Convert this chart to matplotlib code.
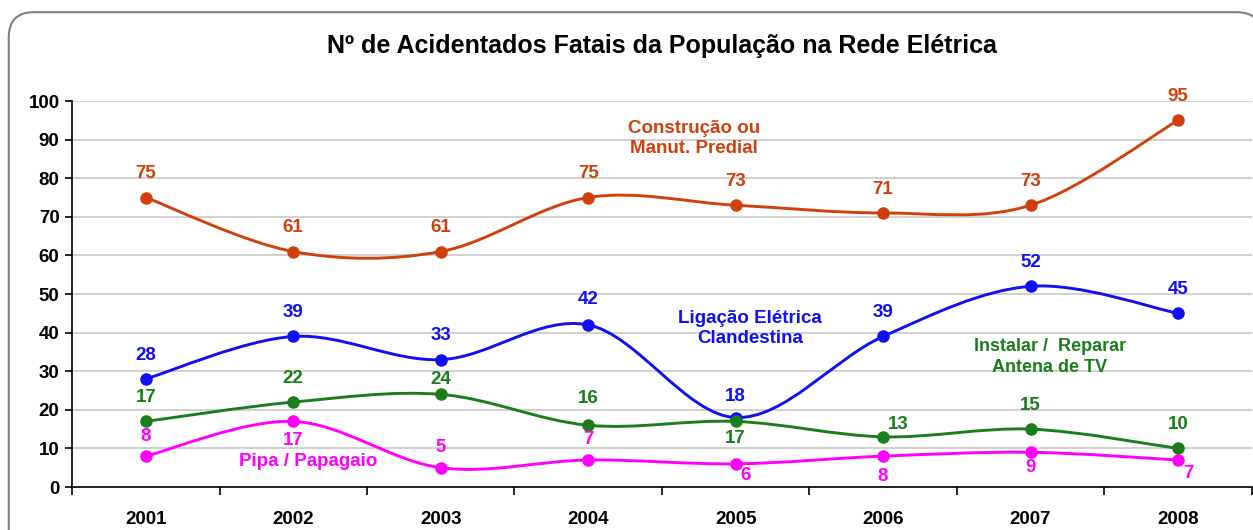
import matplotlib
matplotlib.use("Agg")
import matplotlib.pyplot as plt
from matplotlib.path import Path
from matplotlib.patches import PathPatch, FancyBboxPatch

plt.rcParams['font.family'] = ['Liberation Sans', 'DejaVu Sans']
plt.rcParams['font.weight'] = 'bold'

years = ["2001", "2002", "2003", "2004", "2005", "2006", "2007", "2008"]
construcao = [75, 61, 61, 75, 73, 71, 73, 95]
ligacao = [28, 39, 33, 42, 18, 39, 52, 45]
antena = [17, 22, 24, 16, 17, 13, 15, 10]
pipa = [8, 17, 5, 7, 6, 8, 9, 7]

# label placement per point: (dx in category units, dy in data units)
up = (0, 6.2)
series = [
    (construcao, "#D0400C", [up] * 8),
    (ligacao, "#1010F0", [up, up, up, (0, 6.7), (0, 5.4), up, up, up]),
    (antena, "#1B7D1B", [up, up, (0, 3.9), (0, 7.0), (0, -4.4), (0.1, 3.1), up, up]),
    (pipa, "#FF00FF", [(0, 5.0), (0, -4.9), (0, 5.2), (0, 5.2), (0.07, -2.9),
                       (0, -5.2), (0, -3.9), (0.07, -3.6)]),
]


def smooth_path(vals):
    # excel-like smoothed line: cubic bezier through the points
    x = list(range(len(vals)))
    pts = list(zip(x, vals))
    verts = [pts[0]]
    codes = [Path.MOVETO]
    n = len(pts)
    for i in range(n - 1):
        p0 = pts[max(i - 1, 0)]
        p1 = pts[i]
        p2 = pts[i + 1]
        p3 = pts[min(i + 2, n - 1)]
        c1 = (p1[0] + (p2[0] - p0[0]) / 6, p1[1] + (p2[1] - p0[1]) / 6)
        c2 = (p2[0] - (p3[0] - p1[0]) / 6, p2[1] - (p3[1] - p1[1]) / 6)
        verts += [c1, c2, p2]
        codes += [Path.CURVE4] * 3
    return Path(verts, codes)


fig = plt.figure(figsize=(12.53, 5.30), dpi=100)
frame = FancyBboxPatch((0.007, -0.05), 1.0, 1.027, boxstyle="round,pad=0,rounding_size=0.02",
                       transform=fig.transFigure, facecolor="white", edgecolor="#7f7f7f",
                       linewidth=1.5, mutation_aspect=1253 / 530, zorder=-10)
fig.patches.append(frame)

ax = fig.add_axes([0.0575, 0.0811, 0.9415, 0.7283])
ax.set_facecolor("none")

for vals, col, places in series:
    ax.add_patch(PathPatch(smooth_path(vals), fill=False, edgecolor=col, linewidth=2.1, zorder=3))
    ax.plot(range(len(vals)), vals, linestyle="none", marker="o", markersize=8,
            color=col, zorder=4)
    for i, v in enumerate(vals):
        dx, dy = places[i]
        ax.text(i + dx, v + dy, str(v), color=col, ha='center', va='center',
                fontsize=13.5, fontweight='bold', zorder=5)

ax.text(3.72, 90.3, "Construção ou\nManut. Predial", color="#D0400C", ha='center', va='center',
        fontsize=13.5, fontweight='bold', linespacing=1.25)
ax.text(4.1, 41.1, "Ligação Elétrica\nClandestina", color="#1010F0", ha='center', va='center',
        fontsize=13.5, fontweight='bold', linespacing=1.25)
ax.text(6.13, 33.7, "Instalar /  Reparar\nAntena de TV", color="#1B7D1B", ha='center', va='center',
        fontsize=13, fontweight='bold', linespacing=1.25)
ax.text(1.1, 6.5, "Pipa / Papagaio", color="#FF00FF", ha='center', va='center',
        fontsize=13.5, fontweight='bold')

ax.set_xlim(-0.5, 7.5)
ax.set_ylim(0, 100)
ax.set_yticks(range(0, 101, 10))
ax.set_xticks(range(len(years)))
ax.set_xticklabels(years)
ax.set_xticks([i + 0.5 for i in range(-1, len(years))], minor=True)
ax.tick_params(axis='x', which='major', length=0, pad=17, labelsize=13.5)
ax.tick_params(axis='x', which='minor', length=6, width=1.2, direction='out')
ax.tick_params(axis='y', length=5, width=1.2, direction='out', labelsize=13.5, pad=4)
for lab in ax.get_xticklabels() + ax.get_yticklabels():
    lab.set_fontweight('bold')
ax.yaxis.grid(True, color="#c8c8c8", linewidth=1.2)
ax.set_axisbelow(True)
for s in ["top", "right"]:
    ax.spines[s].set_visible(False)
ax.spines["left"].set_linewidth(1.2)
ax.spines["bottom"].set_linewidth(1.2)

fig.text(0.528, 0.914, "Nº de Acidentados Fatais da População na Rede Elétrica",
         ha='center', va='center', fontsize=18, fontweight='bold')

fig.savefig("out.png", dpi=100)
